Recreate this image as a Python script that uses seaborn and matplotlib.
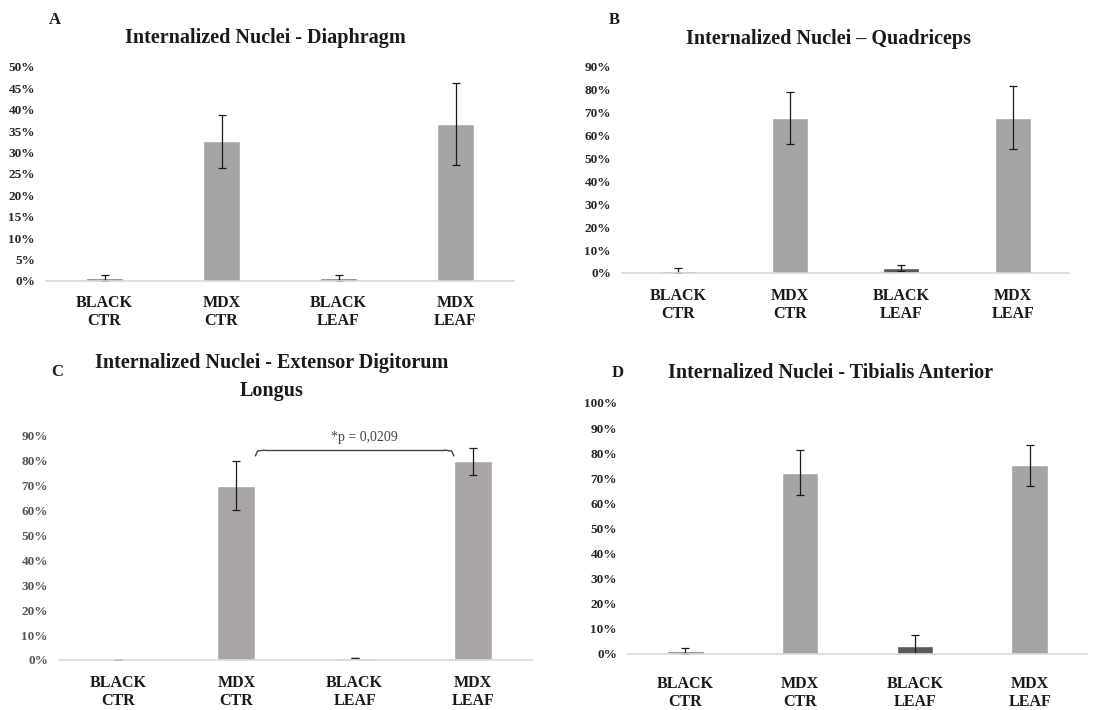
import numpy as np
import seaborn as sns
import matplotlib.pyplot as plt
from matplotlib.ticker import PercentFormatter

sns.set_style("white")
plt.rcParams['font.family'] = ['Liberation Serif', 'DejaVu Serif']
plt.rcParams['font.weight'] = 'bold'

groups = ["BLACK\nCTR", "MDX\nCTR", "BLACK\nLEAF", "MDX\nLEAF"]

# Panel values (% internalized nuclei) and error bars
diaphragm = [0.7, 32.7, 0.7, 36.6]
diaphragm_err = [0.8, 6.2, 0.8, 9.6]
quadriceps = [1.0, 67.8, 2.0, 67.9]
quadriceps_err = [1.2, 11.4, 1.3, 13.7]
edl = [0.2, 70.1, 0.8, 79.8]
edl_err = [0.0, 9.9, 0.1, 5.5]
tibialis = [1.1, 72.3, 3.3, 75.1]
tibialis_err = [1.2, 8.8, 4.3, 8.1]

W, H = 1113, 710
fig = plt.figure(figsize=(W / 100, H / 100), dpi=100)


def px_axes(left, right, top, bottom):
    return fig.add_axes([left / W, 1 - bottom / H, (right - left) / W, (bottom - top) / H])


def panel(ax, vals, errs, colors, ymax, step, xpad, tick_color="#262626"):
    df = {"group": groups, "value": vals}
    sns.barplot(x="group", y="value", hue="group", data=df, palette=colors,
                width=0.32, legend=False, ax=ax, saturation=1)
    ax.errorbar(np.arange(len(vals)), vals, yerr=errs, fmt="none",
                ecolor="#1a1a1a", elinewidth=0.9, capsize=3, capthick=0.9)
    ax.set_ylim(0, ymax)
    ax.set_xlim(-0.5, 3.5)
    ax.set_yticks(np.arange(0, ymax + 0.1, step))
    ax.yaxis.set_major_formatter(PercentFormatter(decimals=0))
    ax.set_xlabel("")
    ax.set_ylabel("")
    sns.despine(ax=ax, left=True)
    ax.spines["bottom"].set_color("#d9d9d9")
    ax.spines["bottom"].set_linewidth(1.2)
    ax.tick_params(axis="y", length=0, pad=8, labelsize=9.5, labelcolor=tick_color)
    ax.tick_params(axis="x", length=0, pad=xpad, labelsize=11.5, labelcolor="#1a1a1a")
    for t in ax.get_yticklabels():
        t.set_fontweight("bold")
    for t in ax.get_xticklabels():
        t.set_fontweight("bold")
        t.set_linespacing(1.15)


# A - Diaphragm
ax_a = px_axes(46, 514, 67, 281)
panel(ax_a, diaphragm, diaphragm_err, ["#7f7f7f", "#a5a5a5", "#7f7f7f", "#a5a5a5"], 50, 5, 10)

# B - Quadriceps
ax_b = px_axes(622, 1069, 67, 273)
panel(ax_b, quadriceps, quadriceps_err, ["#7f7f7f", "#a5a5a5", "#595959", "#a5a5a5"], 90, 10, 11)

# C - EDL
ax_c = px_axes(59, 532, 436, 660)
panel(ax_c, edl, edl_err, ["#a9a5a5", "#a9a5a5", "#a9a5a5", "#a9a5a5"], 90, 10, 11,
      tick_color="#555555")

# D - Tibialis anterior
ax_d = px_axes(628, 1087, 403, 654)
panel(ax_d, tibialis, tibialis_err, ["#7f7f7f", "#a5a5a5", "#595959", "#a5a5a5"], 100, 10, 16)

# significance bracket in C
x0, x1, yb, yt = 1.16, 2.84, 82.0, 84.3
ax_c.plot([x0, x0 + 0.02, x0 + 0.08], [yb, yt - 0.3, yt], color="#404040", lw=1, clip_on=False)
ax_c.plot([x0 + 0.08, x1 - 0.08], [yt, yt], color="#404040", lw=1, clip_on=False)
ax_c.plot([x1 - 0.08, x1 - 0.02, x1], [yt, yt - 0.3, yb], color="#404040", lw=1, clip_on=False)
ax_c.text(2.08, 89.5, "*p = 0,0209", ha="center", va="center", fontsize=10,
          fontweight="normal", color="#404040")

# titles and panel letters
def ftext(x, y, s, size, **kw):
    fig.text(x / W, 1 - y / H, s, ha="center", va="center", fontsize=size,
             fontweight="bold", color="#1a1a1a", **kw)


ftext(265, 38, "Internalized Nuclei - Diaphragm", 14.5)
ftext(829, 39, "Internalized Nuclei \u2013 Quadriceps", 14.5)
ftext(272, 363, "Internalized Nuclei - Extensor Digitorum", 14.5)
ftext(272, 391, "Longus", 14.5)
ftext(830, 373, "Internalized Nuclei - Tibialis Anterior", 14.5)

ftext(55, 20, "A", 12)
ftext(614, 20, "B", 12)
ftext(57, 372, "C", 12)
ftext(618, 373, "D", 12)

fig.savefig("out.png", dpi=100, facecolor="white")
